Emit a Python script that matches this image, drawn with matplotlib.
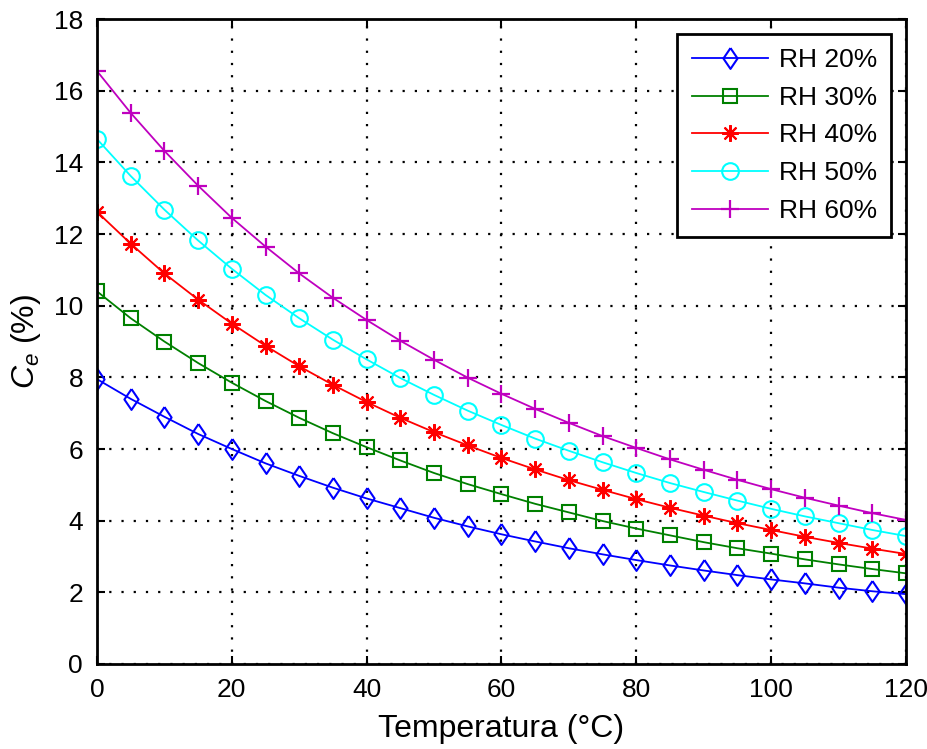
import numpy as np
import matplotlib
matplotlib.use("Agg")
import matplotlib.pyplot as plt

plt.rcParams['font.family'] = ['Liberation Sans', 'DejaVu Sans']
plt.rcParams['mathtext.fontset'] = 'custom'
plt.rcParams['mathtext.it'] = 'Liberation Sans:italic'
plt.rcParams['mathtext.rm'] = 'Liberation Sans'

# temperature steps (°C)
temp = np.arange(0, 121, 5)

# equilibrium moisture content
rh20 = [7.95, 7.40, 6.90, 6.42, 6.00, 5.60, 5.25, 4.92, 4.62, 4.35, 4.08, 3.84,
        3.62, 3.42, 3.23, 3.06, 2.90, 2.75, 2.61, 2.48, 2.36, 2.25, 2.13, 2.03, 1.95]
rh30 = [10.40, 9.65, 9.00, 8.40, 7.85, 7.34, 6.87, 6.44, 6.05, 5.68, 5.33, 5.02,
        4.74, 4.47, 4.23, 3.99, 3.78, 3.59, 3.40, 3.23, 3.08, 2.92, 2.78, 2.65, 2.53]
rh40 = [12.62, 11.73, 10.90, 10.17, 9.50, 8.88, 8.31, 7.79, 7.31, 6.87, 6.47, 6.10,
        5.75, 5.43, 5.13, 4.86, 4.60, 4.36, 4.14, 3.93, 3.74, 3.55, 3.38, 3.22, 3.07]
rh50 = [14.65, 13.62, 12.68, 11.82, 11.03, 10.30, 9.65, 9.05, 8.50, 7.98, 7.51, 7.07,
        6.67, 6.29, 5.95, 5.63, 5.33, 5.05, 4.80, 4.56, 4.33, 4.12, 3.93, 3.74, 3.57]
rh60 = [16.55, 15.38, 14.32, 13.35, 12.45, 11.65, 10.90, 10.22, 9.60, 9.02, 8.49, 7.99,
        7.54, 7.12, 6.73, 6.36, 6.03, 5.71, 5.42, 5.14, 4.88, 4.64, 4.42, 4.21, 4.02]

labels = ['RH 20%', 'RH 30%', 'RH 40%', 'RH 50%', 'RH 60%']

diamond = [(0, 1), (0.68, 0), (0, -1), (-0.68, 0), (0, 1)]
styles = [
    dict(color='#0000ff', marker=diamond, ms=15),
    dict(color='#008000', marker='s', ms=9.5),
    dict(color='#ff0000', marker=(8, 2, 0), ms=12),
    dict(color='#00ffff', marker='o', ms=12),
    dict(color='#bf00bf', marker='+', ms=13, mew=1.6),
]

fig = plt.figure(figsize=(9.27, 7.49), dpi=100)
ax = fig.add_axes([0.1046, 0.1135, 0.8727, 0.8611])

for y, lab, st in zip([rh20, rh30, rh40, rh50, rh60], labels, styles):
    kw = dict(lw=1.3, mfc='none', mew=1.5)
    kw.update(st)
    ax.plot(temp, y, label=lab, **kw)

ax.set_xlim(0, 120)
ax.set_ylim(0, 18)
ax.set_xticks(np.arange(0, 121, 20))
ax.set_yticks(np.arange(0, 19, 2))
ax.grid(True, color='black', linestyle=(0, (1, 4.5)), linewidth=1.6)
ax.set_axisbelow(True)
ax.tick_params(direction='in', length=6, width=1.5, top=True, right=True,
               labelsize=19, pad=10, colors='black')
for sp in ax.spines.values():
    sp.set_linewidth(2)

ax.set_xlabel('Temperatura (°C)', fontsize=23, labelpad=9)
ax.set_ylabel(r'$C_e$ (%)', fontsize=23, labelpad=8)

leg = ax.legend(loc='upper right', fontsize=19, fancybox=False, framealpha=1,
                edgecolor='black', borderaxespad=0.55, handlelength=2.9,
                labelspacing=0.52, handletextpad=0.4, borderpad=0.55)
leg.get_frame().set_linewidth(2)

fig.savefig('out.png', dpi=100)
